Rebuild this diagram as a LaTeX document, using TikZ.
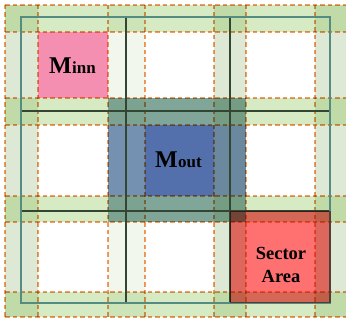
\documentclass[tikz,border=0pt]{standalone}
\usepackage{fontspec}
\setmainfont{Liberation Serif}
\usepackage{tikz}
\usetikzlibrary{positioning}
\definecolor{minncolor}{RGB}{244,143,177}
\definecolor{outcolor}{RGB}{124,150,190}
\definecolor{incolor}{RGB}{84,112,172}
\definecolor{sectorcolor}{RGB}{255,112,112}
\definecolor{hbandcolor}{RGB}{138,195,86}
\definecolor{vbandcolor}{RGB}{221,233,213}
\definecolor{vlightcolor}{RGB}{242,247,238}
\definecolor{halocolor}{RGB}{242,155,95}
\definecolor{edgecolor}{RGB}{84,140,130}
\definecolor{splitcolor}{RGB}{50,70,50}
\tikzset{halo edge/.style={draw=halocolor,dash pattern=on 4.5pt off 3pt,line width=1.1pt},
	band/.style={fill opacity=0.35},
	outer edge/.style={draw=edgecolor,line width=1.3pt},
	split edge/.style={draw=splitcolor,line width=1.2pt},
	big letter/.style={font=\bfseries\fontsize{24}{24}\selectfont},
	small letter/.style={font=\bfseries\fontsize{17}{17}\selectfont},
	area text/.style={font=\bfseries\fontsize{18.5}{23}\selectfont,align=center}}

\begin{document}
\begin{tikzpicture}[x=1pt,y=-1pt]
\useasboundingbox (0,0) rectangle (346,320);
\fill[white] (0,0) rectangle (346,320);
% inner block and outer block
\fill[minncolor] (38,32) rectangle (108,98);
\fill[outcolor] (108,98) rectangle (246,222);
\fill[incolor] (145,125) rectangle (214,196);
% halo bands
\begin{scope}[blend mode=multiply]
\foreach \xl/\xr/\shade in {5/38/vbandcolor,108/145/vlightcolor,214/246/vbandcolor,315/346/vbandcolor}
  \fill[\shade] (\xl,5) rectangle (\xr,317);
\end{scope}
\foreach \yt/\yb in {5/32,98/125,196/222,292/317}
  \fill[band,hbandcolor] (5,\yt) rectangle (346,\yb);
\begin{scope}[blend mode=multiply]
\foreach \x in {5,38,108,145,214,246,315}
  \draw[halo edge] (\x,5) -- (\x,317);
\foreach \y in {5,32,98,125,196,222,292,317}
  \draw[halo edge] (5,\y) -- (346,\y);
\end{scope}
% sector grid
\foreach \x in {126,230}
  \draw[split edge] (\x,17) -- (\x,303);
\foreach \y in {111,211}
  \draw[split edge] (21,\y) -- (330,\y);
\draw[outer edge] (21,17) rectangle (330,303);
% sector
\begin{scope}[blend mode=multiply]
\fill[sectorcolor] (230,211) rectangle (331,303);
\end{scope}
\node[big letter,anchor=base east,inner sep=0pt] (minn) at (72,74) {M};
\node[small letter,anchor=base west,inner sep=0pt] (minnsub) at (minn.base east) {inn};
\node[big letter,anchor=base east,inner sep=0pt] (mout) at (178,168) {M};
\node[small letter,anchor=base west,inner sep=0pt] (moutsub) at (mout.base east) {out};
\node[area text] (sector) at (281,265) {Sector\\Area};
\end{tikzpicture}
\end{document}
